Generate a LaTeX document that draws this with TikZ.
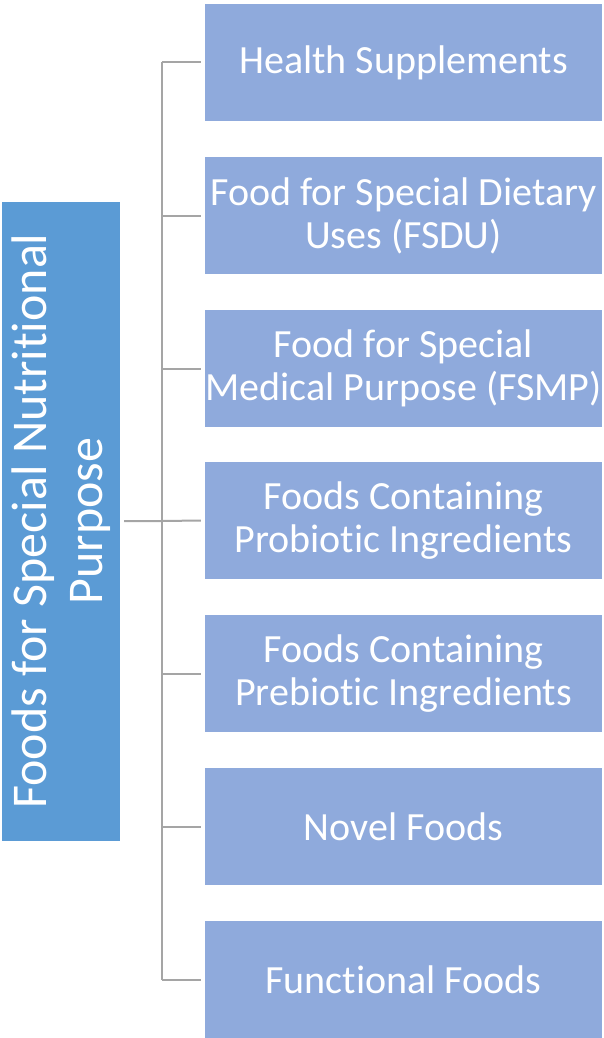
\documentclass[tikz,border=0pt]{standalone}
\usepackage{fontspec}
\setmainfont{Carlito}[Ligatures={NoCommon,NoContextual}]
\begin{document}
\begin{tikzpicture}[x=1pt,y=-1pt,
  leaf/.style={fill=leafblue,draw=none,minimum width=397pt,minimum height=117pt,inner sep=0pt,text=white,align=center,font=\fontsize{40}{43}\selectfont},
  root/.style={fill=rootblue,draw=none,inner sep=0pt,text=white,align=center,rotate=90,font=\fontsize{50}{56}\selectfont},
  conn/.style={draw=linegray,line width=2pt}]
\definecolor{leafblue}{HTML}{8FAADC}
\definecolor{rootblue}{HTML}{5B9BD5}
\definecolor{linegray}{HTML}{A5A5A5}
\useasboundingbox (0,0) rectangle (603,1038);
\node[root,minimum width=639pt,minimum height=118pt] (r) at (61,521) {Foods for Special Nutritional\\Purpose};
\node[leaf] (a) at (403.5,62.5) {Health Supplements};
\node[leaf] (b) at (403.5,215.5) {Food for Special Dietary\\Uses (FSDU)};
\node[leaf] (c) at (403.5,368.5) {Food for Special\\Medical Purpose (FSMP)};
\node[leaf] (d) at (403.5,520.5) {Foods Containing\\Probiotic Ingredients};
\node[leaf] (e) at (403.5,673.5) {Foods Containing\\Prebiotic Ingredients};
\node[leaf] (f) at (403.5,826.5) {Novel Foods};
\node[leaf] (g) at (403.5,979.5) {Functional Foods};
\coordinate (top) at (162,62.5);
\coordinate (bot) at (162,979.5);
\draw[conn] (top) -- (bot);
\draw[conn] ([xshift=4pt]r.south |- r.center) -- (162,521) -- ([xshift=-4pt]d.west);
\foreach \n in {a,b,c,e,f,g}{
  \draw[conn] (162,0 |- \n.west) -- ([xshift=-4pt]\n.west);
}
\end{tikzpicture}
\end{document}
